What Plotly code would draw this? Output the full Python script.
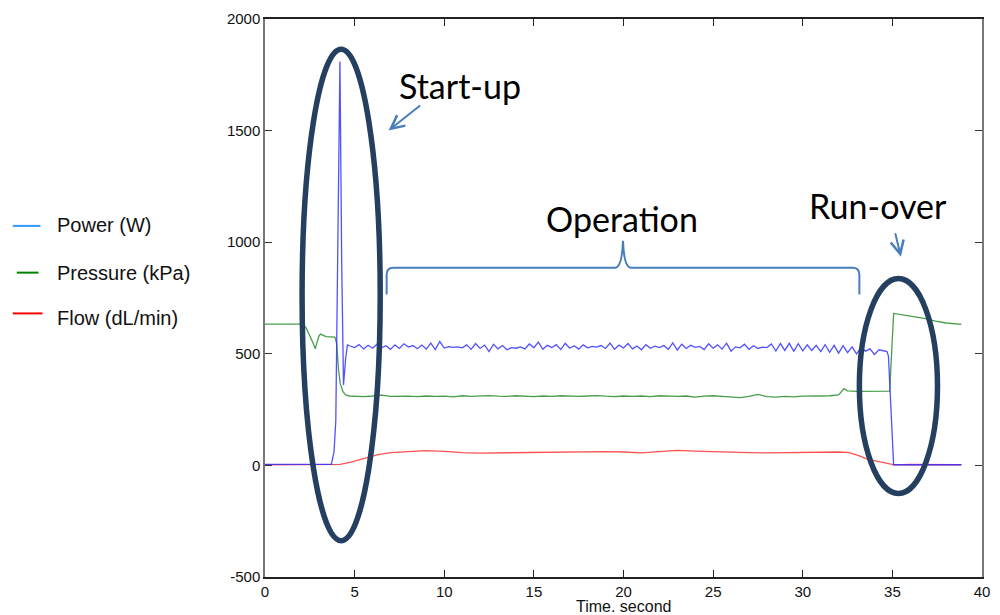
import plotly.graph_objects as go

# ---------------- data ----------------
series_names = ["Power (W)", "Pressure (kPa)", "Flow (dL/min)"]

# Power (W)
power_start_t = [0, 3.7, 3.85, 3.95, 4.05, 4.18, 4.28, 4.38, 4.5, 4.6]
power_start_v = [5, 5, 60, 200, 900, 1810, 900, 360, 480, 540]
power_op_t0 = 4.75
power_op_step = 0.25
power_op_v = [
    535, 528, 541, 522, 538, 525, 543, 527, 536, 520,
    540, 524, 545, 530, 537, 523, 539, 521, 548, 519,
    555, 526, 532, 529, 531, 527, 540, 520, 546, 524,
    539, 510, 543, 522, 537, 518, 528, 525, 531, 522,
    544, 527, 552, 520, 538, 528, 541, 519, 547, 525,
    536, 521, 540, 527, 533, 530, 537, 524, 548, 520,
    539, 526, 546, 522, 535, 518, 541, 525, 534, 528,
    537, 520, 549, 517, 543, 524, 538, 529, 533, 519,
    545, 525, 540, 521, 548, 512, 531, 527, 543, 520,
    536, 524, 530, 528, 544, 512, 546, 515, 547, 511,
    545, 513, 540, 515, 538, 510, 541, 507, 538, 503,
    536, 505, 531, 500, 528, 512, 522, 497, 518, 515,
]
power_end_t = [34.7, 34.78, 35.07, 38.85]
power_end_v = [510, 490, 3, 3]

# Pressure (kPa)
pressure_start_t = [0, 2.1, 2.3, 2.45, 2.6, 2.7, 2.8, 2.9, 3.0, 3.1, 3.25, 3.4,
                    3.9, 4.0, 4.1, 4.2, 4.35, 4.5, 4.7]
pressure_start_v = [633, 633, 615, 588, 568, 545, 522, 552, 578, 588, 582, 577,
                    575, 545, 430, 365, 330, 316, 311]
pressure_op_t0 = 5.0
pressure_op_step = 0.5
pressure_op_v = [
    310, 308, 311, 315, 309, 311, 310, 308, 311, 309,
    310, 307, 312, 309, 311, 313, 310, 309, 312, 310,
    308, 311, 309, 312, 310, 309, 311, 313, 310, 308,
    311, 309, 311, 308, 312, 310, 309, 311, 306, 310,
    312, 309, 305, 304, 309, 318, 308, 306, 309, 307,
    310, 309, 311, 312, 316,
]
pressure_end_t = [32.3, 32.5, 33.0, 34.0, 34.85, 35.07, 36.0, 36.85, 37.4, 38.0, 38.85]
pressure_end_v = [344, 334, 332, 331, 333, 681, 668, 658, 646, 638, 632]

# Flow (dL/min)
flow_t = [0, 3.8, 4.2, 4.8, 5.5, 6.3, 7.0, 8.0, 9.0, 10.0, 11.0, 12.0, 13.0,
          14.0, 15.0, 16.0, 17.0, 18.0, 19.0, 20.0, 21.0, 22.0, 23.0, 24.0,
          25.0, 26.0, 27.0, 28.0, 29.0, 30.0, 31.0, 32.0, 32.6, 33.2, 33.6,
          34.2, 34.8, 35.1, 36.0, 38.85]
flow_v = [3, 3, 5, 15, 32, 48, 57, 62, 66, 63, 57, 55, 56,
          58, 60, 61, 62, 63, 62, 60, 56, 62, 67, 64,
          61, 58, 57, 56, 57, 59, 60, 60, 57, 42, 28,
          18, 10, 2, 4, 3]

x_ticks = [0, 5, 10, 15, 20, 25, 30, 35, 40]
y_ticks = [-500, 0, 500, 1000, 1500, 2000]
x_title = "Time. second"
callouts = ["Start-up", "Operation", "Run-over"]

# ---------------- assemble ----------------
def grid(t0, step, n):
    return [round(t0 + step * i, 4) for i in range(n)]

power_t = power_start_t + grid(power_op_t0, power_op_step, len(power_op_v)) + power_end_t
power_v = power_start_v + power_op_v + power_end_v
pressure_t = pressure_start_t + grid(pressure_op_t0, pressure_op_step, len(pressure_op_v)) + pressure_end_t
pressure_v = pressure_start_v + pressure_op_v + pressure_end_v

W, H = 1000, 615
ML, MR, MT, MB = 265, 10, 16, 38
PW, PH = W - ML - MR, H - MT - MB


def px(x):
    return (x - ML) / PW


def py(y):
    return (H - MB - y) / PH


fig = go.Figure()
fig.add_trace(go.Scatter(x=pressure_t, y=pressure_v, mode="lines", name=series_names[1],
                         line=dict(color="rgba(40,140,40,0.85)", width=1.3)))
fig.add_trace(go.Scatter(x=flow_t, y=flow_v, mode="lines", name=series_names[2],
                         line=dict(color="rgba(255,50,50,0.85)", width=1.3)))
fig.add_trace(go.Scatter(x=power_t, y=power_v, mode="lines", name=series_names[0],
                         line=dict(color="rgba(50,50,255,0.85)", width=1.3)))

shapes = []
annotations = []

# manual legend
leg_colors = ["#3399ff", "#008000", "#ff0000"]
leg_line_x = [(10, 38), (14, 36), (10, 40)]
leg_line_y = [224, 271, 312]
leg_text_y = [223, 271, 317]
for name, c, (xa, xb), ly, ty in zip(series_names, leg_colors, leg_line_x, leg_line_y, leg_text_y):
    shapes.append(dict(type="line", xref="paper", yref="paper", x0=px(xa), x1=px(xb),
                       y0=py(ly), y1=py(ly), line=dict(color=c, width=2)))
    annotations.append(dict(xref="paper", yref="paper", x=px(53), y=py(ty), text=name,
                            showarrow=False, xanchor="left", yanchor="middle",
                            font=dict(family="Liberation Sans, Arial", size=20, color="#111")))

# ellipses
navy = "#243f60"
for (x0, x1, y0, y1) in [(302.5, 381.5, 46.5, 540.5), (866, 945, 277, 493)]:
    shapes.append(dict(type="circle", xref="paper", yref="paper",
                       x0=px(x0), x1=px(x1), y0=py(y1), y1=py(y0),
                       line=dict(color=navy, width=5.5)))

# brace
bpts = "M {a} L {b} Q {c} {d} L {e} Q {f} {g} Q {h} {i} L {j} Q {k} {l} L {m}"
def P(x, y):
    return f"{px(x):.5f},{py(y):.5f}"
brace = bpts.format(a=P(388, 293), b=P(388, 273), c=P(388, 266), d=P(395, 266),
                    e=P(619, 266), f=P(626, 266), g=P(627, 239), h=P(628, 266),
                    i=P(635, 266), j=P(859, 266), k=P(866, 266), l=P(866, 273),
                    m=P(866, 293))
shapes.append(dict(type="path", xref="paper", yref="paper", path=brace,
                   line=dict(color="#4a7ebb", width=2)))

# callout texts
txt_font = dict(family="Lato, Open Sans", size=34, color="#000")
annotations.append(dict(xref="paper", yref="paper", x=px(462.5), y=py(83), text=callouts[0],
                        showarrow=False, xanchor="center", yanchor="middle", font=txt_font))
annotations.append(dict(xref="paper", yref="paper", x=px(626), y=py(217), text=callouts[1],
                        showarrow=False, xanchor="center", yanchor="middle", font=txt_font))
annotations.append(dict(xref="paper", yref="paper", x=px(885), y=py(203), text=callouts[2],
                        showarrow=False, xanchor="center", yanchor="middle", font=txt_font))

# arrows
annotations.append(dict(xref="paper", yref="paper", x=px(390), y=py(128), ax=33, ay=-26,
                        text="", showarrow=True, arrowhead=5, arrowsize=1.3, arrowwidth=2,
                        arrowcolor="#4a7ebb"))
annotations.append(dict(xref="paper", yref="paper", x=px(908), y=py(255), ax=-6, ay=-25,
                        text="", showarrow=True, arrowhead=5, arrowsize=1.3, arrowwidth=2,
                        arrowcolor="#4a7ebb"))

# x axis title
annotations.append(dict(xref="paper", yref="paper", x=px(628), y=py(607), text=x_title,
                        showarrow=False, xanchor="center", yanchor="middle",
                        font=dict(family="Liberation Sans, Arial", size=16, color="#111")))

tick_font = dict(family="Liberation Sans, Arial", size=15, color="#111")
fig.update_layout(
    width=W, height=H,
    margin=dict(l=ML, r=MR, t=MT, b=MB),
    paper_bgcolor="white", plot_bgcolor="white",
    showlegend=False,
    shapes=shapes, annotations=annotations,
    xaxis=dict(range=[0, 40], tickvals=x_ticks, ticktext=[str(v) for v in x_ticks],
               showgrid=False, zeroline=False, showline=True, linecolor="#222",
               linewidth=1.5, mirror="allticks", ticks="inside", ticklen=7,
               tickcolor="#222", tickfont=tick_font),
    yaxis=dict(range=[-500, 2000], tickvals=y_ticks, ticktext=[str(v) for v in y_ticks],
               showgrid=False, zeroline=False, showline=True, linecolor="#777",
               linewidth=1.5, mirror="allticks", ticks="inside", ticklen=7,
               tickcolor="#333", tickfont=tick_font),
)

fig.write_html("out.html")
